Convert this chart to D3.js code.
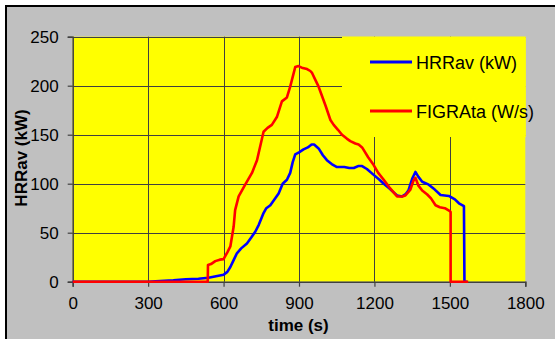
<!DOCTYPE html>
<html><head><meta charset="utf-8">
<script src="https://cdn.jsdelivr.net/npm/d3@7"></script>
<style>
html,body{margin:0;padding:0;background:#fff;}
svg{display:block;}
text{font-family:"Liberation Sans",Arial,sans-serif;}
</style></head>
<body><svg id="c" width="555" height="339"></svg>
<script>
const xTicks = [0, 300, 600, 900, 1200, 1500, 1800];
const yTicks = [0, 50, 100, 150, 200, 250];
const seriesNames = ["HRRav (kW)", "FIGRAta (W/s)"];
const seriesColors = ["#0000FF", "#FF0000"];
const xTitle = "time (s)";
const yTitle = "HRRav (kW)";

const hrrTime = [0,300,330,400,450,500,540,570,600,615,627,640,653,670,693,710,726,740,759,770,786,800,819,835,852,865,875,885,900,918,935,950,960,978,995,1011,1030,1051,1080,1100,1118,1135,1151,1170,1197,1220,1237,1260,1290,1310,1323,1335,1350,1363,1375,1390,1416,1440,1463,1496,1520,1536,1556,1558,1570];
const hrrValue = [0,0,0.5,1.5,2.5,3,4,5.5,7,10,15,22,29,34,39,45,51,58,70,75,78,83,90,100,104,111,122,130,132,135,137,140,140,136,129,124,120,117,117,116,116,118,118,115,109,104,100,95,88,87,89,93,105,112,107,102,99,94,88.5,87.5,84,80,77,0,0];

const figraTime = [0,537,538,550,567,585,600,615,627,640,646,660,686,713,733,759,775,792,812,832,852,865,885,898,915,932,945,952,965,978,1005,1025,1038,1055,1071,1090,1104,1124,1137,1151,1175,1197,1215,1237,1260,1290,1310,1323,1343,1355,1363,1375,1390,1410,1425,1443,1460,1480,1500,1503,1503,1573];
const figraValue = [0,0,17,18,21,22.5,23,30,36,56,73,87,99,111,124,153,157,160,168,184,188,199,219,220,218,217,215,213,206,199,180,165,160,155,150,146,143.5,141,140,137,127,119,111,104,96,87,87,88,94,103,106,98,93,89,85,78,76,75,72,71,0,0];

const svg = d3.select("#c");
// outer chart area
svg.append("rect").attr("x",6).attr("y",6).attr("width",560).attr("height",345)
  .attr("fill","#C0C0C0").attr("stroke","#000").attr("stroke-width",2);

const L=72.7, R=525.3, T=36.7, B=281.7;
const x = d3.scaleLinear().domain([0,1800]).range([L,R]);
const y = d3.scaleLinear().domain([0,250]).range([B,T]);

svg.append("rect").attr("x",L).attr("y",T).attr("width",R-L).attr("height",B-T).attr("fill","#FFFF00");

// gridlines
const grid = svg.append("g").attr("stroke","#404040").attr("stroke-width",1);
yTicks.filter(d=>d>0).forEach(v=>{
  grid.append("line").attr("x1",L).attr("x2",R).attr("y1",Math.round(y(v))+0.5).attr("y2",Math.round(y(v))+0.5);
});
xTicks.filter(d=>d>0 && d<1800).forEach(v=>{
  grid.append("line").attr("y1",T).attr("y2",B).attr("x1",Math.round(x(v))+0.5).attr("x2",Math.round(x(v))+0.5);
});

// legend box (covers gridlines)
svg.append("rect").attr("x",342).attr("y",T).attr("width",R-342+0.5).attr("height",137-T).attr("fill","#FFFF00");

// axes
const xAxis = d3.axisBottom(x).tickValues(xTicks).tickSize(5).tickPadding(6).tickFormat(d3.format("d"));
const yAxis = d3.axisLeft(y).tickValues(yTicks).tickSize(5).tickPadding(9).tickFormat(d3.format("d"));
const gx = svg.append("g").attr("transform",`translate(0,${B})`).call(xAxis);
const gy = svg.append("g").attr("transform",`translate(${L},0)`).call(yAxis);
[gx,gy].forEach(g=>{
  g.select(".domain").attr("stroke","#404040").attr("stroke-width",1.5);
  g.selectAll(".tick line").attr("stroke","#404040").attr("stroke-width",1.2);
  g.selectAll(".tick text").attr("font-size",17).attr("fill","#000").attr("font-family","'Liberation Sans',Arial,sans-serif");
});
gx.selectAll(".tick text").attr("dy","0.95em");

// lines
const line = d3.line().x(d=>x(d[0])).y(d=>y(d[1]));
const hrr = hrrTime.map((t,i)=>[t,hrrValue[i]]);
const figra = figraTime.map((t,i)=>[t,figraValue[i]]);
svg.append("path").datum(hrr).attr("d",line).attr("fill","none").attr("stroke",seriesColors[0]).attr("stroke-width",2.6).attr("stroke-linejoin","round");
svg.append("path").datum(figra).attr("d",line).attr("fill","none").attr("stroke",seriesColors[1]).attr("stroke-width",2.6).attr("stroke-linejoin","round");

// legend
const legY = [62, 111];
seriesNames.forEach((n,i)=>{
  svg.append("line").attr("x1",370).attr("x2",412).attr("y1",legY[i]).attr("y2",legY[i])
    .attr("stroke",seriesColors[i]).attr("stroke-width",2.8);
  svg.append("text").attr("x",416).attr("y",legY[i]+6.5).attr("font-size",18).attr("fill","#000").text(n);
});

// titles
svg.append("text").attr("x",298.5).attr("y",331).attr("text-anchor","middle")
  .attr("font-size",17).attr("font-weight","bold").text(xTitle);
svg.append("text").attr("transform","translate(27,158) rotate(-90)").attr("text-anchor","middle")
  .attr("font-size",17).attr("font-weight","bold").text(yTitle);
</script></body></html>
